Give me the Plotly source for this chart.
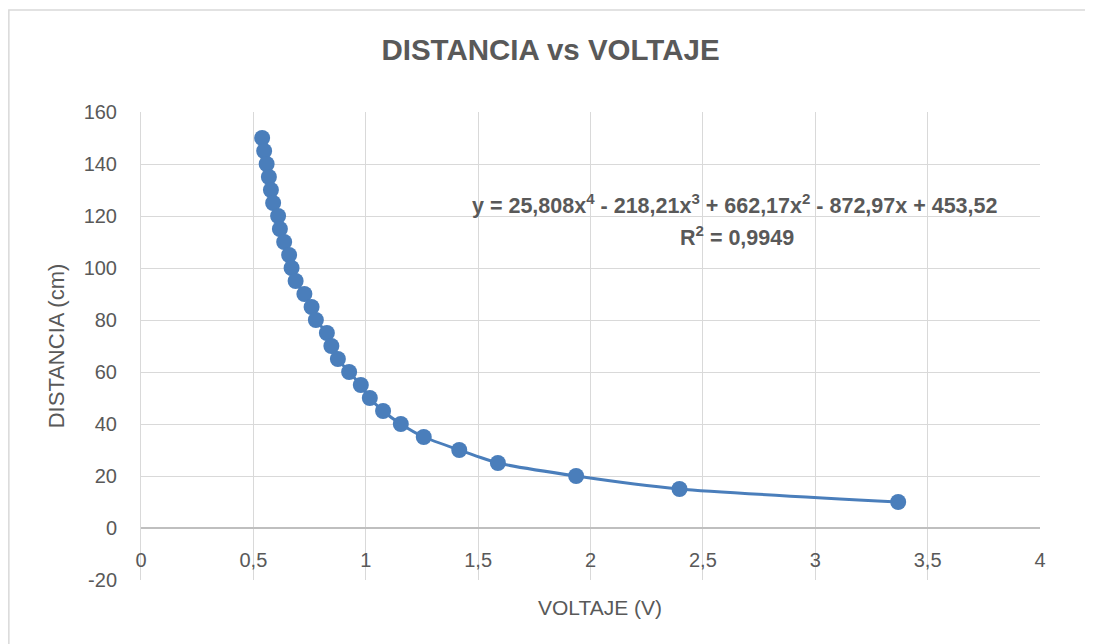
import plotly.graph_objects as go

voltaje = [0.539, 0.548, 0.559, 0.569, 0.578, 0.588, 0.610, 0.618, 0.637, 0.659,
           0.670, 0.688, 0.727, 0.759, 0.778, 0.827, 0.847, 0.876, 0.926, 0.978,
           1.018, 1.077, 1.156, 1.258, 1.416, 1.588, 1.936, 2.396, 3.369]
distancia = [150, 145, 140, 135, 130, 125, 120, 115, 110, 105,
             100, 95, 90, 85, 80, 75, 70, 65, 60, 55,
             50, 45, 40, 35, 30, 25, 20, 15, 10]

x_ticks = [0, 0.5, 1, 1.5, 2, 2.5, 3, 3.5, 4]
x_labels = ["0", "0,5", "1", "1,5", "2", "2,5", "3", "3,5", "4"]
y_ticks = [-20, 0, 20, 40, 60, 80, 100, 120, 140, 160]
y_labels = ["-20", "0", "20", "40", "60", "80", "100", "120", "140", "160"]

ecuacion = ("y = 25,808x<sup>4</sup> - 218,21x<sup>3</sup> + 662,17x<sup>2</sup>"
            " - 872,97x + 453,52")
r2 = "R<sup>2</sup> = 0,9949"

FONT = "Liberation Sans"
GRIS = "#595959"
AZUL = "#4a7ebb"

fig = go.Figure(go.Scatter(
    x=voltaje, y=distancia, mode="lines+markers",
    line=dict(color=AZUL, width=3, shape="spline", smoothing=0.6),
    marker=dict(color=AZUL, size=16),
    showlegend=False,
))

fig.update_layout(
    width=1085, height=636,
    margin=dict(l=133, r=53, t=104, b=64),
    paper_bgcolor="white", plot_bgcolor="white",
    font=dict(family=FONT, color=GRIS, size=20),
    title=dict(text="<b>DISTANCIA vs VOLTAJE</b>", x=0.5, xanchor="center",
               y=0.934, yanchor="middle",
               font=dict(size=29.5, color=GRIS, family=FONT)),
    xaxis=dict(range=[0, 4], tickvals=x_ticks, ticktext=x_labels,
               showgrid=True, gridcolor="#d9d9d9", gridwidth=1,
               zeroline=False, showline=False, anchor="free", position=0.1118,
               ticks="outside", ticklen=14, tickcolor="rgba(0,0,0,0)",
               tickfont=dict(size=20, color=GRIS)),
    yaxis=dict(range=[-20, 160], tickvals=y_ticks, ticktext=y_labels,
               showgrid=True, gridcolor="#d9d9d9", gridwidth=1,
               zeroline=True, zerolinecolor="#bfbfbf", zerolinewidth=1.5,
               showline=True, linecolor="#d9d9d9", linewidth=1,
               ticks="outside", ticklen=19, tickcolor="rgba(0,0,0,0)",
               tickfont=dict(size=20, color=GRIS),
               title=dict(text="DISTANCIA (cm)", font=dict(size=22, color=GRIS),
                          standoff=12)),
)

fig.add_annotation(x=2.642, y=124.5, text="<b>" + ecuacion + "</b>", showarrow=False,
                   xanchor="center", yanchor="middle",
                   font=dict(size=21.5, color=GRIS, family=FONT))
fig.add_annotation(x=2.65, y=112.5, text="<b>" + r2 + "</b>", showarrow=False,
                   xanchor="center", yanchor="middle",
                   font=dict(size=21.5, color=GRIS, family=FONT))
fig.add_annotation(x=0.511, y=-0.058, xref="paper", yref="paper", text="VOLTAJE (V)",
                   showarrow=False, xanchor="center", yanchor="middle",
                   font=dict(size=21, color=GRIS, family=FONT))

# Borde del área del gráfico
fig.add_shape(type="rect", xref="paper", yref="paper", x0=-0.147, x1=1.2,
              y0=-0.5, y1=1.218, line=dict(color="#d9d9d9", width=1.5),
              fillcolor="rgba(0,0,0,0)", layer="below")

fig.write_html("out.html")
